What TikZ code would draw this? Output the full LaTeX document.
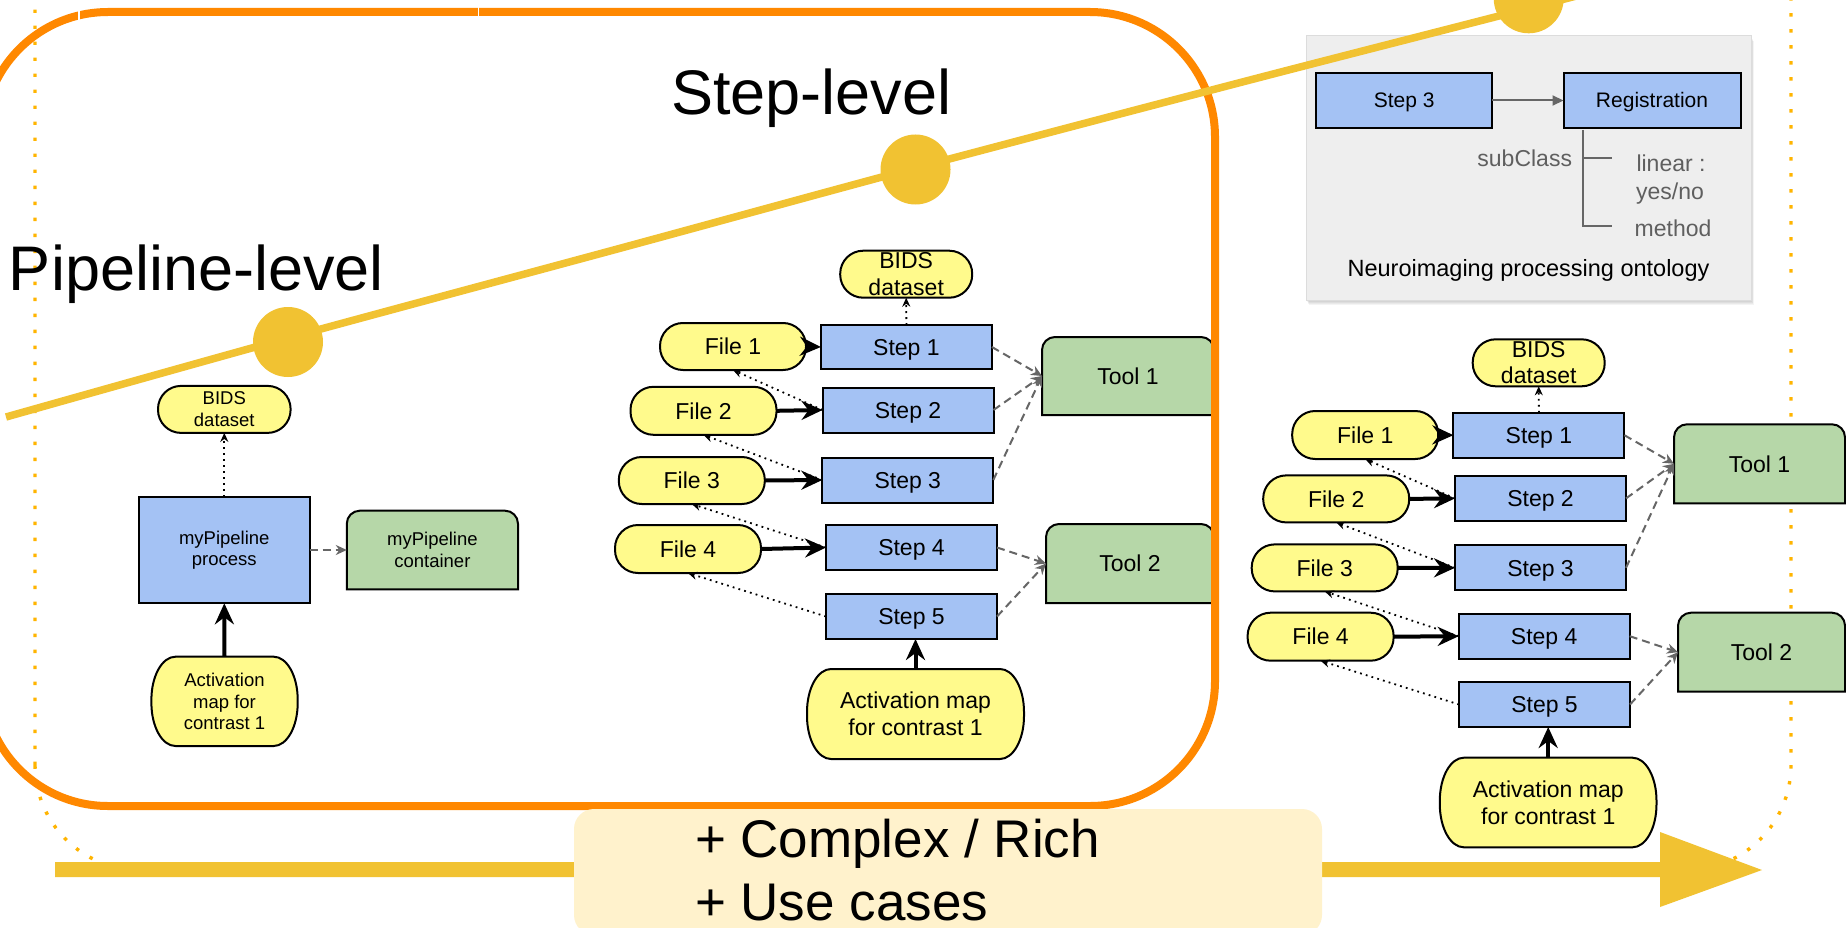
\documentclass[tikz,border=0pt]{standalone}
\usepackage{fontspec}
\setmainfont{Liberation Sans}
\usetikzlibrary{arrows.meta}
\definecolor{nodeblue}{RGB}{164,194,244}
\definecolor{nodegreen}{RGB}{182,215,168}
\definecolor{nodeyellow}{RGB}{255,250,140}
\definecolor{accentyellow}{RGB}{241,194,50}
\definecolor{lineorange}{RGB}{255,136,0}
\definecolor{dotamber}{RGB}{255,180,0}
\definecolor{paleyellow}{RGB}{255,242,204}
\definecolor{panelgray}{RGB}{238,238,238}
\definecolor{panelborder}{RGB}{220,220,220}
\definecolor{arrowgray}{RGB}{102,102,102}
\definecolor{labelgray}{RGB}{95,95,95}
% shape with rounded top corners: style, left x, top y, right x, bottom y (pixels, y downward)
\newcommand\mytopround[5]{%
  \path[#1] (#2,-#5) -- (#2,-#3-13) arc[start angle=180,end angle=90,radius=13]
    -- (#4-13,-#3) arc[start angle=90,end angle=0,radius=13] -- (#4,-#5) -- cycle;}
% pill with elliptical ends: left x, top y, right x, bottom y
\newcommand\myactshape[4]{%
  \path[actshape] (#1+24,-#2) -- (#3-24,-#2)
    arc[start angle=90,end angle=0,x radius=24,y radius=43] -- (#3,-#4+43)
    arc[start angle=0,end angle=-90,x radius=24,y radius=43] -- (#1+24,-#4)
    arc[start angle=270,end angle=180,x radius=24,y radius=43] -- (#1,-#2-43)
    arc[start angle=180,end angle=90,x radius=24,y radius=43] -- cycle;}
\tikzset{
  nodebase/.style={inner sep=0pt, outer sep=0pt},
  stepbox/.style={nodebase, draw=black, line width=2pt, fill=nodeblue, minimum width=171pt, minimum height=45pt, font=\fontsize{23}{27}\selectfont, text height=16.5pt, text depth=0pt},
  filebox/.style={nodebase, draw=black, line width=2pt, fill=nodeyellow, rounded corners=23pt, minimum width=146pt, minimum height=47pt, font=\fontsize{23}{27}\selectfont, text height=16.5pt, text depth=0pt},
  bidsbox/.style={nodebase, draw=black, line width=2pt, fill=nodeyellow, rounded corners=23pt, minimum width=132pt, minimum height=47pt, align=center, font=\fontsize{23}{26.5}\selectfont},
  procbox/.style={nodebase, draw=black, line width=2pt, fill=nodeblue, align=center, font=\fontsize{18.5}{21.5}\selectfont},
  toolshape/.style={draw=black, line width=2pt, fill=nodegreen},
  actshape/.style={draw=black, line width=2pt, fill=nodeyellow},
  tooltext/.style={nodebase, font=\fontsize{23}{27}\selectfont, text height=16.5pt, text depth=0pt},
  acttext/.style={nodebase, align=center, font=\fontsize{23}{26.7}\selectfont},
  smalltext/.style={nodebase, align=center, font=\fontsize{18.5}{21.6}\selectfont},
  solidconn/.style={line width=4pt, -{Stealth[length=21pt,width=19pt,inset=7pt]}},
  dotconn/.style={line width=1.8pt, dash pattern=on 1.8pt off 4.2pt, -{Stealth[length=9pt,width=8pt,inset=3pt]}},
  dashconn/.style={draw=arrowgray, line width=2pt, dash pattern=on 8pt off 5pt, -{Stealth[length=11pt,width=10pt,inset=3.5pt]}},
  grayarrow/.style={draw=arrowgray, line width=2pt, -{Triangle[length=11pt,width=10pt]}},
  amberdots/.style={draw=dotamber, line width=3.4pt, dash pattern=on 3.4pt off 12.6pt},
  paneltext/.style={nodebase, anchor=base, text=labelgray, font=\fontsize{23}{27}\selectfont},
}
\begin{document}
\begin{tikzpicture}[x=1pt,y=1pt]
\useasboundingbox (0,0) rectangle (1846,-928);
\fill[white] (0,0) rectangle (1846,-928);

% dotted amber frame
\draw[amberdots, rounded corners=105pt] (35,-870) rectangle (1791,250);

% bottom progress arrow
\fill[accentyellow] (55,-862) -- (1660,-862) -- (1660,-832) -- (1762,-870) -- (1660,-907) -- (1660,-877) -- (55,-877) -- cycle;

% ontology panel
\foreach \k in {1,...,5} {\fill[black, opacity=0.045] (1306+\k*0.6,-300-\k) rectangle (1751+\k*0.6,-36-\k);}
\filldraw[fill=panelgray, draw=panelborder, line width=1pt] (1306,-36) rectangle (1751,-300);
\node[stepbox, minimum width=176.5pt, minimum height=54.4pt, font=\fontsize{21}{25}\selectfont, text height=15pt] (ps3) at (1404.2,-100.5) {Step 3};
\node[stepbox, minimum width=177pt, minimum height=54.4pt, font=\fontsize{21}{25}\selectfont, text height=15pt] (preg) at (1652,-100.5) {Registration};
\draw[grayarrow] (ps3.east) -- (preg.west);
\coordinate (tr0) at (1583,-130);
\coordinate (tr1) at (1612,-157.7);
\coordinate (tr2) at (1612,-226);
\draw[arrowgray, line width=1.8pt] (tr0) |- (tr2);
\draw[arrowgray, line width=1.8pt] (tr0 |- tr1) -- (tr1);
\node[paneltext, anchor=base east] (subc) at (1572,-166.7) {subClass};
\node[paneltext] (lin) at (1671,-171.7) {linear :};
\node[paneltext] (yn) at (1670,-200) {yes/no};
\node[paneltext] (meth) at (1673,-236) {method};
\node[nodebase, anchor=base, font=\fontsize{23.5}{27}\selectfont] (onto) at (1528.5,-276.7) {Neuroimaging processing ontology};

% ---------- pipeline level ----------
\node[bidsbox, minimum width=132.6pt, font=\fontsize{18.5}{22}\selectfont] (lbids) at (224.3,-409.4) {BIDS\\dataset};
\node[procbox, minimum width=170.6pt, minimum height=106.6pt] (lproc) at (224.3,-550) {myPipeline\\process};
\mytopround{toolshape}{346.8}{510.7}{518}{589.3}
\node[smalltext, minimum width=171.2pt, minimum height=78.6pt] (lcont) at (432.4,-550) {myPipeline\\container};
\myactshape{151.4}{656.7}{297.7}{746}
\node[smalltext, minimum width=146.3pt, minimum height=89.3pt] (lact) at (224.5,-701.4) {Activation\\map for\\contrast 1};
\draw[dotconn] (lproc.north) -- (lbids.south);
\draw[dashconn] (lproc.east) -- (lcont.west);
\draw[solidconn] (lact.north) -- (lproc.south);

% ---------- step level (middle) ----------
\node[bidsbox] (mbids) at (906.2,-274.2) {BIDS\\dataset};
\node[stepbox, minimum height=44pt] (ms1) at (906.4,-347) {Step 1};
\node[filebox] (mf1) at (733,-346.5) {File 1};
\node[stepbox] (ms2) at (908,-410) {Step 2};
\node[filebox, minimum height=48pt] (mf2) at (703.5,-410.8) {File 2};
\node[stepbox] (ms3) at (907.8,-480) {Step 3};
\node[filebox] (mf3) at (691.8,-480.5) {File 3};
\node[stepbox] (ms4) at (911.5,-547.5) {Step 4};
\node[filebox, minimum height=48pt] (mf4) at (688,-549) {File 4};
\node[stepbox] (ms5) at (911.5,-616.5) {Step 5};
\myactshape{807}{669}{1024}{759}
\node[acttext, minimum width=217pt, minimum height=90pt] (mact) at (915.5,-714) {Activation map\\for contrast 1};
\mytopround{toolshape}{1042}{337}{1214}{415}
\node[tooltext, minimum width=172pt, minimum height=78pt] (mt1) at (1128,-376) {Tool 1};
\mytopround{toolshape}{1046}{524}{1214}{603}
\node[tooltext, minimum width=168pt, minimum height=79pt] (mt2) at (1130,-563.5) {Tool 2};

\draw[dotconn] (ms1.north) -- (mbids.south);
\draw[solidconn] (mf1.east) -- (ms1.west);
\draw[solidconn] (mf2.east) -- (ms2.west);
\draw[solidconn] (mf3.east) -- (ms3.west);
\draw[solidconn] (mf4.east) -- (ms4.west);
\draw[dotconn] (ms2.west) -- (mf1.south);
\draw[dotconn] (ms3.west) -- (mf2.south);
\draw[dotconn] (ms4.west) -- (mf3.south);
\draw[dotconn] (ms5.west) -- (mf4.south);
\draw[dashconn] (ms1.east) -- (mt1.west);
\draw[dashconn] (ms2.east) -- (mt1.west);
\draw[dashconn] (ms3.east) -- (mt1.west);
\draw[dashconn] (ms4.east) -- (mt2.west);
\draw[dashconn] (ms5.east) -- (mt2.west);
\draw[solidconn] (mact.north) -- (mact.north |- ms5.south);

% ---------- right ----------
\node[bidsbox] (rbids) at (1538.7,-362.8) {BIDS\\dataset};
\node[stepbox] (rs1) at (1538.9,-435.2) {Step 1};
\node[filebox, minimum height=48pt] (rf1) at (1365.2,-435) {File 1};
\node[stepbox] (rs2) at (1540.5,-498.4) {Step 2};
\node[filebox] (rf2) at (1336.2,-498.9) {File 2};
\node[stepbox] (rs3) at (1540.5,-567.8) {Step 3};
\node[filebox] (rf3) at (1324.7,-567.9) {File 3};
\node[stepbox] (rs4) at (1544.2,-636.2) {Step 4};
\node[filebox, minimum height=48pt] (rf4) at (1320.6,-636.7) {File 4};
\node[stepbox] (rs5) at (1544.5,-704.5) {Step 5};
\myactshape{1439.8}{757.7}{1656.5}{847.3}
\node[acttext, minimum width=217pt, minimum height=90pt] (ract) at (1548.2,-802.5) {Activation map\\for contrast 1};
\mytopround{toolshape}{1674}{424.3}{1845}{503.3}
\node[tooltext, minimum width=171pt, minimum height=79pt] (rt1) at (1759.5,-463.8) {Tool 1};
\mytopround{toolshape}{1678}{612.7}{1845}{691.7}
\node[tooltext, minimum width=167pt, minimum height=79pt] (rt2) at (1761.5,-652.2) {Tool 2};

\draw[dotconn] (rs1.north) -- (rbids.south);
\draw[solidconn] (rf1.east) -- (rs1.west);
\draw[solidconn] (rf2.east) -- (rs2.west);
\draw[solidconn] (rf3.east) -- (rs3.west);
\draw[solidconn] (rf4.east) -- (rs4.west);
\draw[dotconn] (rs2.west) -- (rf1.south);
\draw[dotconn] (rs3.west) -- (rf2.south);
\draw[dotconn] (rs4.west) -- (rf3.south);
\draw[dotconn] (rs5.west) -- (rf4.south);
\draw[dashconn] (rs1.east) -- (rt1.west);
\draw[dashconn] (rs2.east) -- (rt1.west);
\draw[dashconn] (rs3.east) -- (rt1.west);
\draw[dashconn] (rs4.east) -- (rt2.west);
\draw[dashconn] (rs5.east) -- (rt2.west);
\draw[solidconn] (ract.north) -- (ract.north |- rs5.south);

% orange frame
\draw[lineorange, line width=8pt, rounded corners=125pt] (-17,-806) rectangle (1215,-12);
\draw[white, line width=1.6pt] (79,-7) -- (79,-23);
\draw[white, line width=1.6pt] (478.5,-5) -- (478.5,-19);

% yellow level line and milestones
\draw[accentyellow, line width=7.5pt] plot[smooth, tension=0.5] coordinates {(6,-417) (288,-338) (620,-248.3) (915.5,-168) (1250,-80) (1495,-17) (1700,36)};
\fill[accentyellow] (288,-342) circle (35);
\fill[accentyellow] (915.5,-169.5) circle (35);
\fill[accentyellow] (1528.7,1.7) circle (35);

% bottom label box
\fill[paleyellow, rounded corners=20pt] (574,-809) rectangle (1322,-935);
\node[nodebase, anchor=base west, font=\fontsize{53}{63}\selectfont] (cplx) at (695,-857) {+ Complex / Rich};
\node[nodebase, anchor=base west, font=\fontsize{53}{63}\selectfont] (uses) at (695,-920) {+ Use cases};

% titles
\node[nodebase, anchor=base west, font=\fontsize{63}{70}\selectfont] (plevel) at (9,-290) {Pipeline-level};
\node[nodebase, anchor=base west, font=\fontsize{63}{70}\selectfont] (slevel) at (671,-115) {Step-level};
\end{tikzpicture}
\end{document}
